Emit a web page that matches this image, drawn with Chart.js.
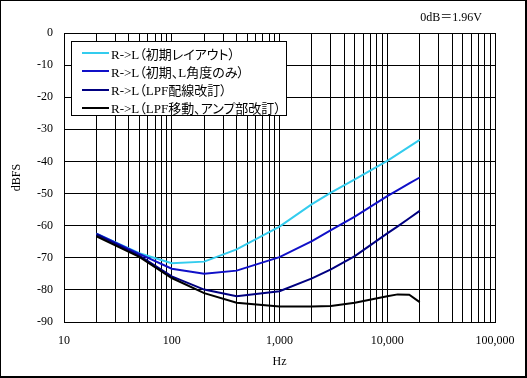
<!DOCTYPE html>
<html>
<head>
<meta charset="utf-8">
<script src="https://cdn.jsdelivr.net/npm/chart.js@4"></script>
<style>
    body { margin: 0; background: #fff; }
    #wrap { position: relative; width: 527px; height: 378px; }
    #frame { position: absolute; left: 0; top: 0; width: 527px; height: 378px; box-sizing: border-box;
             border: 1px solid #000; border-right-width: 2px; border-bottom-width: 2px; pointer-events: none; }
    #note { position: absolute; right: 45px; top: 7px; font: 12px 'Liberation Serif', 'Noto Sans CJK JP', serif; }
    #legend { position: absolute; left: 71px; top: 41px; width: 216px; height: 75px; box-sizing: border-box;
              border: 1px solid #000; background: #fff; }
    .row { position: absolute; left: 0; height: 18px; display: flex; align-items: center; white-space: nowrap;
           font: 13px 'Liberation Serif', 'Noto Sans CJK JP', serif; font-feature-settings: "palt"; }
    .swatch { display: inline-block; width: 27px; height: 2px; margin: 0 2px 0 10px; }
</style>
</head>
<body>
<div id="wrap">
    <canvas id="chart" width="527" height="378"></canvas>
    <div id="note">0dB＝1.96V</div>
    <div id="legend"></div>
    <div id="frame"></div>
</div>
<script>
// measured frequencies (Hz)
const freqs = [20, 50, 100, 200, 400, 1000, 2000, 3000, 5000, 10000, 12500, 16000, 20000];

// crosstalk R->L (dBFS)
const initialLayout = [-62.5, -68.6, -71.7, -71.2, -67.4, -60.3, -53.3, -49.7, -45.6, -39.8, -37.7, -35.4, -33.3];
const angleOnly     = [-62.5, -68.8, -73.4, -75.0, -74.0, -69.8, -64.8, -61.4, -57.2, -50.8, -48.9, -46.8, -45.0];
const lpfWiring     = [-62.7, -69.3, -75.8, -79.9, -82.0, -80.4, -76.4, -73.6, -69.5, -62.4, -60.2, -57.7, -55.4];
const lpfMoveAmp    = [-63.3, -69.7, -76.3, -81.0, -84.0, -85.2, -85.2, -85.0, -84.0, -82.0, -81.4, -81.5, -83.8];

const seriesLabels = ["R->L（初期レイアウト）", "R->L（初期、L角度のみ）", "R->L（LPF配線改訂）", "R->L（LPF移動、アンプ部改訂）"];
const seriesColors = ["#33CCEE", "#1010C8", "#000080", "#000000"];

// axis ranges
const xDecades = [10, 100, 1000, 10000, 100000];
const yMin = -90, yMax = 0, yGridStep = 5, yLabelStep = 10;

document.addEventListener("DOMContentLoaded", function () {
    const seriesValues = [initialLayout, angleOnly, lpfWiring, lpfMoveAmp];

    /** ========== legend ========== */
    const legend = document.getElementById("legend");
    seriesLabels.forEach((label, i) => {
        const row = document.createElement("div");
        row.className = "row";
        row.style.top = (2 + i * 18.3) + "px";
        row.innerHTML = `<span class="swatch" style="background:${seriesColors[i]}"></span><span>${label}</span>`;
        legend.appendChild(row);
    });

    /** ========== grid ticks for the log axis ========== */
    const xGridTicks = [];
    for (let d = 0; d < xDecades.length - 1; d++) {
        for (let m = 1; m < 10; m++) xGridTicks.push({ value: xDecades[d] * m });
    }
    xGridTicks.push({ value: xDecades[xDecades.length - 1] });

    Chart.defaults.font.family = "'Liberation Serif', 'Times New Roman', serif";
    Chart.defaults.font.size = 12;
    Chart.defaults.color = "#000";

    const datasets = seriesValues.map((vals, i) => ({
        label: seriesLabels[i],
        data: freqs.map((f, k) => ({ x: f, y: vals[k] })),
        borderColor: seriesColors[i],
        backgroundColor: seriesColors[i],
        borderWidth: 2,
        pointRadius: 0,
        tension: 0,
        order: seriesValues.length - i
    }));

    new Chart(document.getElementById("chart"), {
        type: "line",
        data: { datasets: datasets },
        options: {
            responsive: false,
            animation: false,
            layout: { padding: { top: 33, right: 32, left: 0, bottom: 0 } },
            plugins: { legend: { display: false }, tooltip: { enabled: false } },
            scales: {
                x: {
                    type: "logarithmic",
                    min: xDecades[0],
                    max: xDecades[xDecades.length - 1],
                    afterBuildTicks: scale => { scale.ticks = xGridTicks.map(t => ({ value: t.value })); },
                    afterFit: scale => { scale.height = 56; },
                    grid: { color: "#000", lineWidth: 1, drawTicks: false },
                    border: { color: "#000", width: 1 },
                    ticks: {
                        autoSkip: false,
                        maxRotation: 0,
                        padding: 12,
                        callback: v => xDecades.includes(v) ? v.toLocaleString("en-US") : ""
                    },
                    title: { display: true, text: "Hz", padding: { top: 0, bottom: 9 } }
                },
                y: {
                    min: yMin,
                    max: yMax,
                    afterFit: scale => { scale.width = 64; },
                    grid: { color: "#000", lineWidth: 1, drawTicks: false },
                    border: { color: "#000", width: 1 },
                    ticks: {
                        stepSize: yGridStep,
                        padding: 11,
                        callback: v => v % yLabelStep === 0 ? String(v) : ""
                    },
                    title: { display: true, text: "dBFS", padding: { top: 10, bottom: 0 } }
                }
            }
        }
    });
});
</script>
</body>
</html>
